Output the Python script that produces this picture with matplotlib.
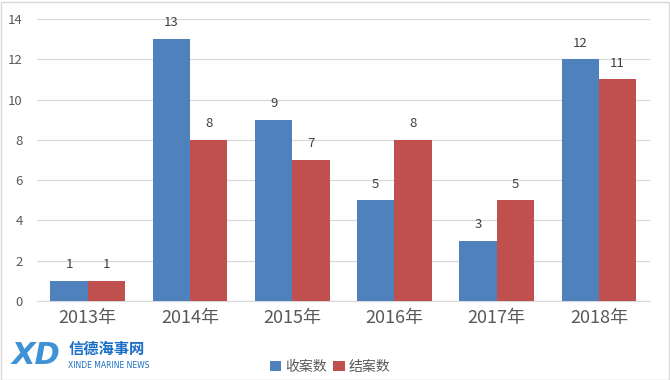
import numpy as np
import matplotlib
matplotlib.use("Agg")
import matplotlib.pyplot as plt
from matplotlib.patches import Rectangle

plt.rcParams['font.family'] = ['Noto Sans CJK SC', 'DejaVu Sans']

years = ['2013年', '2014年', '2015年', '2016年', '2017年', '2018年']
received = [1, 13, 9, 5, 3, 12]
closed = [1, 8, 7, 8, 5, 11]
series_names = ['收案数', '结案数']

BLUE = '#4F81BD'
RED = '#C0504D'
GRID = '#D9D9D9'
TXT = '#595959'

fig = plt.figure(figsize=(6.7, 3.8), dpi=100)
ax = fig.add_axes([36.7/670, 1 - 301/380, 613.3/670, 282/380])

x = np.arange(len(years))
w = 0.365
b1 = ax.bar(x - w/2, received, w, color=BLUE, label=series_names[0], zorder=3)
b2 = ax.bar(x + w/2, closed, w, color=RED, label=series_names[1], zorder=3)

for bars, vals in ((b1, received), (b2, closed)):
    for r, v in zip(bars, vals):
        ax.annotate(str(v), (r.get_x() + r.get_width()/2, v), xytext=(0, 7),
                    textcoords='offset points', ha='center', va='bottom',
                    fontsize=9.5, color='#404040')

ax.set_xlim(-0.5, len(years) - 0.5)
ax.set_ylim(0, 14)
ax.set_yticks(range(0, 15, 2))
ax.set_xticks(x)
ax.set_xticklabels(years, fontsize=13, color=TXT)
ax.tick_params(axis='y', labelsize=9.5, colors=TXT, length=0, pad=10)
ax.tick_params(axis='x', length=0, pad=6)
ax.yaxis.grid(True, color=GRID, lw=0.9, zorder=0)
for s in ['top', 'right', 'left']:
    ax.spines[s].set_visible(False)
ax.spines['bottom'].set_color(GRID)

leg = fig.legend(loc='center', bbox_to_anchor=(330/670, 1 - 367/380), ncol=2,
                 frameon=False, fontsize=10, handlelength=0.8, handleheight=0.8,
                 handletextpad=0.3, columnspacing=0.5)
for t in leg.get_texts():
    t.set_color(TXT)

# watermark logo
fig.text(12/670, 1 - 355/380, 'XD', fontsize=22, fontweight='bold', style='italic',
         color='#1E7FD0', alpha=0.85, va='center', ha='left', family='DejaVu Sans')
fig.text(69/670, 1 - 349/380, '信德海事网', fontsize=11, fontweight='bold',
         color='#1A6FC4', va='center', ha='left')
fig.text(68/670, 1 - 366/380, 'XINDE MARINE NEWS', fontsize=5.5,
         color='#1A6FC4', va='center', ha='left', family='DejaVu Sans')

fig.add_artist(Rectangle((0.5/670, 0.5/380), 668/670, 378/380, transform=fig.transFigure,
                         fill=False, edgecolor='#D9D9D9', lw=1))

fig.savefig('out.png', dpi=100)
